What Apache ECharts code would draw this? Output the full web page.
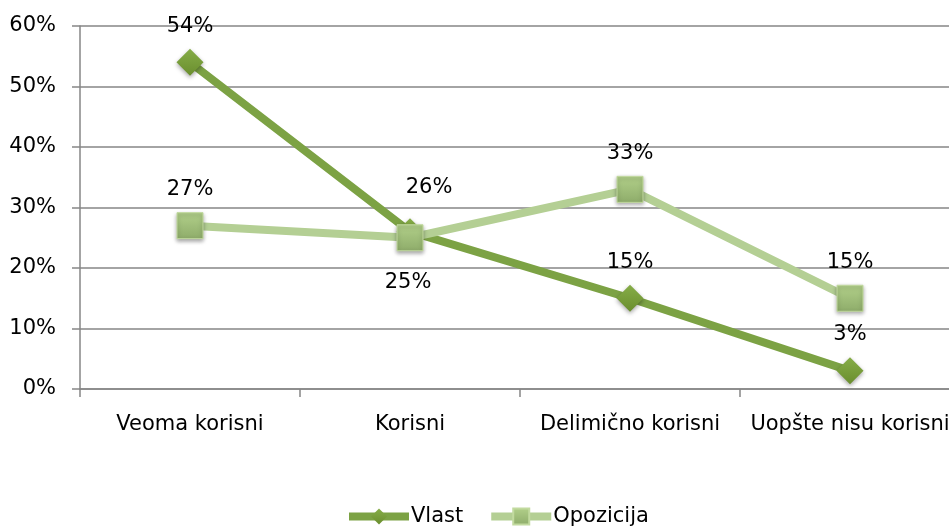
<!DOCTYPE html>
<html>
<head>
<meta charset="utf-8">
<script src="https://cdn.jsdelivr.net/npm/echarts@6/dist/echarts.min.js"></script>
<style>
  html, body { margin: 0; padding: 0; background: #fff; }
  #chart-container { width: 949px; height: 526px; }
</style>
</head>
<body>
<div id="chart-container"></div>
<script>
var categories = ["Veoma korisni", "Korisni", "Delimično korisni", "Uopšte nisu korisni"];
var vlast = [54, 26, 15, 3];
var opozicija = [27, 25, 33, 15];
var yTicks = [0, 10, 20, 30, 40, 50, 60];

var dom = document.getElementById("chart-container");
var myChart = echarts.init(dom, null, { renderer: "canvas" });

var font = "'DejaVu Sans', sans-serif";
var fs = 21;

function grad(top, bottom) {
  return new echarts.graphic.LinearGradient(0, 0, 0, 1, [
    { offset: 0, color: top },
    { offset: 1, color: bottom },
  ]);
}

var option = {
  animation: false,
  textStyle: { fontFamily: font },
  grid: { left: 80, right: -11, top: 26, bottom: 137, outerBoundsMode: "none", containLabel: false },
  legend: {
    bottom: -6,
    left: 340,
    itemWidth: 60,
    itemHeight: 20,
    itemGap: 24,
    textStyle: { fontSize: fs, color: "#000", fontFamily: font, padding: [0, 0, 0, -3] },
    lineStyle: { width: 8 },
    data: ["Vlast", "Opozicija"],
  },
  xAxis: {
    type: "category",
    data: categories,
    boundaryGap: true,
    axisLine: { lineStyle: { color: "#868686", width: 1.5 } },
    axisTick: { show: true, length: 8, lineStyle: { color: "#868686", width: 1.5 } },
    axisLabel: { interval: 0, fontSize: fs, color: "#000", margin: 25, fontFamily: font },
  },
  yAxis: {
    type: "value",
    min: yTicks[0],
    max: yTicks[yTicks.length - 1],
    interval: 10,
    axisLine: { show: true, lineStyle: { color: "#868686", width: 1.5 } },
    axisTick: { show: true, length: 8, lineStyle: { color: "#868686", width: 1.5 } },
    splitLine: { lineStyle: { color: "#868686", width: 1.5 } },
    axisLabel: { fontSize: fs, color: "#000", margin: 24, formatter: "{value}%", fontFamily: font },
  },
  series: [
    {
      name: "Vlast",
      type: "line",
      data: vlast,
      symbol: "diamond",
      symbolSize: 27,
      z: 2,
      lineStyle: { color: "#7ca244", width: 8 },
      itemStyle: {
        color: grad("#86ad48", "#6a8e2e"),
        shadowColor: "rgba(0,0,0,0.35)",
        shadowBlur: 4,
        shadowOffsetY: 2,
      },
      label: {
        show: true,
        position: "top",
        distance: 12,
        formatter: "{c}%",
        fontSize: fs,
        color: "#000",
        fontFamily: font,
      },
      labelLayout: function (p) {
        if (p.dataIndex === 1) return { dx: 19, dy: -8 };
        return {};
      },
    },
    {
      name: "Opozicija",
      type: "line",
      data: opozicija,
      symbol: "rect",
      symbolSize: 26,
      z: 3,
      lineStyle: { color: "#b4cf94", width: 8 },
      itemStyle: {
        color: grad("#b2d08a", "#8eac6a"),
        borderColor: "#c2da9f",
        borderWidth: 1,
        shadowColor: "rgba(0,0,0,0.35)",
        shadowBlur: 4,
        shadowOffsetY: 2,
      },
      label: {
        show: true,
        position: "top",
        distance: 12,
        formatter: "{c}%",
        fontSize: fs,
        color: "#000",
        fontFamily: font,
      },
      labelLayout: function (p) {
        if (p.dataIndex === 1) return { dx: -2, dy: 81 };
        return {};
      },
    },
  ],
};

myChart.setOption(option);
window.addEventListener("resize", myChart.resize);
</script>
</body>
</html>
